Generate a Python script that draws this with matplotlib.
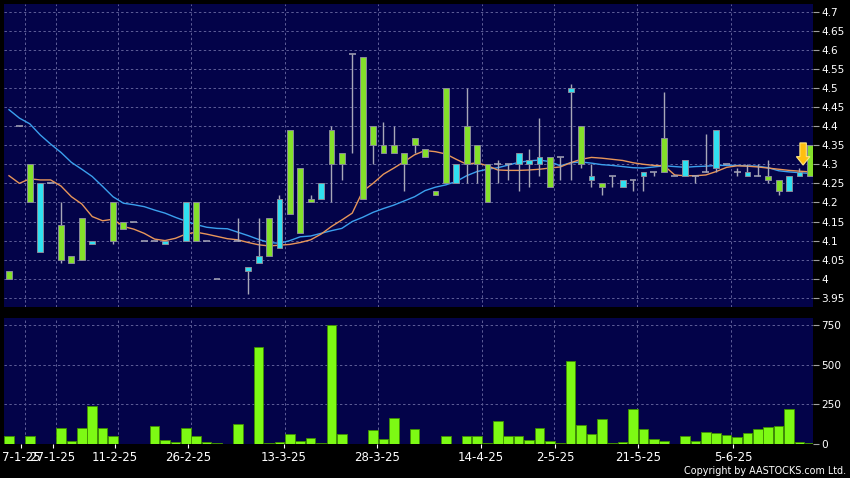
import numpy as np
import matplotlib.pyplot as plt
from matplotlib.patches import Rectangle, FancyArrow

nan = np.nan

# ---- daily OHLC (one slot per bar) ----
opens = [4.00, 4.40, 4.20, 4.25, 4.25, 4.05, 4.04, 4.05, 4.10, nan,
         4.10, 4.13, 4.15, 4.10, 4.10, 4.10, nan, 4.20, 4.10, 4.10,
         4.00, nan, 4.10, 4.03, 4.06, 4.06, 4.21, 4.17, 4.12, 4.20,
         4.25, 4.30, 4.30, 4.59, 4.21, 4.35, 4.33, 4.33, 4.30, 4.35,
         4.32, 4.22, 4.25, 4.30, 4.30, 4.30, 4.20, 4.30, 4.30, 4.33,
         4.31, 4.32, 4.24, 4.32, 4.50, 4.30, 4.27, 4.24, 4.27, 4.26,
         4.26, 4.28, 4.28, 4.28, 4.27, 4.31, 4.27, 4.28, 4.39, 4.30,
         4.28, 4.28, 4.27, 4.26, 4.23, 4.27, 4.28, 4.27]
highs = [4.02, 4.40, 4.30, 4.25, 4.25, 4.20, 4.06, 4.16, 4.10, nan,
         4.20, 4.15, 4.15, 4.10, 4.10, 4.10, nan, 4.20, 4.20, 4.10,
         4.00, nan, 4.16, 4.03, 4.16, 4.16, 4.22, 4.39, 4.29, 4.22,
         4.25, 4.40, 4.33, 4.59, 4.58, 4.40, 4.41, 4.40, 4.33, 4.37,
         4.34, 4.23, 4.50, 4.30, 4.50, 4.35, 4.30, 4.31, 4.30, 4.33,
         4.34, 4.42, 4.32, 4.32, 4.51, 4.40, 4.30, 4.25, 4.27, 4.26,
         4.26, 4.28, 4.28, 4.49, 4.27, 4.31, 4.27, 4.38, 4.39, 4.30,
         4.29, 4.30, 4.30, 4.31, 4.26, 4.27, 4.29, 4.35]
lows = [4.00, 4.40, 4.20, 4.07, 4.25, 4.04, 4.04, 4.05, 4.09, nan,
        4.09, 4.13, 4.15, 4.10, 4.10, 4.09, nan, 4.10, 4.10, 4.10,
        4.00, nan, 4.10, 3.96, 4.04, 4.06, 4.08, 4.17, 4.12, 4.20,
        4.21, 4.20, 4.26, 4.33, 4.21, 4.30, 4.33, 4.33, 4.23, 4.33,
        4.32, 4.22, 4.25, 4.25, 4.25, 4.25, 4.20, 4.25, 4.26, 4.23,
        4.24, 4.27, 4.24, 4.26, 4.26, 4.29, 4.24, 4.22, 4.24, 4.24,
        4.23, 4.23, 4.27, 4.28, 4.27, 4.27, 4.25, 4.28, 4.28, 4.30,
        4.27, 4.27, 4.27, 4.25, 4.22, 4.23, 4.27, 4.27]
closes = [4.02, 4.40, 4.30, 4.07, 4.25, 4.14, 4.06, 4.16, 4.09, nan,
          4.20, 4.15, 4.15, 4.10, 4.10, 4.09, nan, 4.10, 4.20, 4.10,
          4.00, nan, 4.10, 4.02, 4.04, 4.16, 4.08, 4.39, 4.29, 4.21,
          4.21, 4.39, 4.33, 4.59, 4.58, 4.40, 4.35, 4.35, 4.33, 4.37,
          4.34, 4.23, 4.50, 4.25, 4.40, 4.35, 4.30, 4.30, 4.30, 4.30,
          4.30, 4.30, 4.32, 4.32, 4.49, 4.40, 4.26, 4.25, 4.27, 4.24,
          4.26, 4.27, 4.28, 4.37, 4.27, 4.27, 4.27, 4.28, 4.29, 4.30,
          4.28, 4.27, 4.27, 4.27, 4.26, 4.23, 4.27, 4.35]

# ---- moving averages ----
ma_short = [4.270, 4.250, 4.262, 4.259, 4.259, 4.243, 4.215, 4.196, 4.163, 4.152,
            4.156, 4.137, 4.130, 4.119, 4.104, 4.100, 4.106, 4.117, 4.122, 4.117,
            4.111, 4.105, 4.102, 4.095, 4.089, 4.086, 4.088, 4.090, 4.095, 4.102,
            4.117, 4.137, 4.154, 4.172, 4.229, 4.250, 4.274, 4.290, 4.307, 4.325,
            4.336, 4.333, 4.327, 4.313, 4.300, 4.304, 4.296, 4.285, 4.284, 4.284,
            4.285, 4.287, 4.290, 4.293, 4.304, 4.313, 4.318, 4.316, 4.313, 4.310,
            4.304, 4.300, 4.297, 4.296, 4.272, 4.270, 4.270, 4.272, 4.281, 4.292,
            4.296, 4.295, 4.293, 4.290, 4.287, 4.284, 4.282, 4.280]
ma_long = [4.443, 4.421, 4.406, 4.377, 4.353, 4.331, 4.305, 4.287, 4.268, 4.242,
           4.215, 4.198, 4.194, 4.189, 4.180, 4.172, 4.161, 4.151, 4.142, 4.135,
           4.132, 4.131, 4.122, 4.113, 4.103, 4.095, 4.093, 4.100, 4.110, 4.112,
           4.119, 4.126, 4.132, 4.150, 4.161, 4.174, 4.184, 4.193, 4.204, 4.215,
           4.231, 4.240, 4.246, 4.255, 4.270, 4.281, 4.287, 4.291, 4.298, 4.305,
           4.309, 4.311, 4.307, 4.296, 4.304, 4.306, 4.303, 4.299, 4.297, 4.294,
           4.291, 4.290, 4.293, 4.296, 4.294, 4.292, 4.294, 4.295, 4.297, 4.297,
           4.297, 4.296, 4.295, 4.291, 4.283, 4.280, 4.278, 4.276]

volume = [49, 0, 49, 0, 0, 99, 21, 99, 237, 99,
          53, 3, 0, 3, 116, 25, 11, 99, 49, 11,
          6, 0, 125, 2, 609, 6, 10, 61, 17, 38,
          6, 748, 63, 3, 0, 91, 34, 165, 0, 93,
          0, 0, 49, 0, 49, 49, 8, 142, 49, 51,
          25, 101, 21, 6, 520, 120, 63, 156, 8, 13,
          220, 93, 34, 19, 0, 49, 21, 78, 70, 59,
          46, 68, 95, 106, 114, 218, 13, 6]

date_labels = ["7-1-25", "27-1-25", "11-2-25", "26-2-25", "13-3-25",
               "28-3-25", "14-4-25", "2-5-25", "21-5-25", "5-6-25"]
date_slots = [1.15, 4.2, 10.2, 17.2, 26.4, 35.4, 45.4, 52.5, 60.5, 69.6]
grid_slots = [1.5, 4.5, 10.5, 17.5, 26.5, 35.5, 45.5, 52.4, 60.4, 69.4]
price_ticks = [3.95, 4.0, 4.05, 4.1, 4.15, 4.2, 4.25, 4.3, 4.35, 4.4,
               4.45, 4.5, 4.55, 4.6, 4.65, 4.7]
vol_ticks = [0, 250, 500, 750]

# ---- style ----
BG = "#030349"
GRID = "#5e5e98"
GREEN = "#84e02a"
CYAN = "#30e0f0"
WICK = "#a8a8b8"
VOLGREEN = "#7dfa14"

plt.rcParams['font.family'] = ['DejaVu Sans']

fig = plt.figure(figsize=(8.5, 4.78), dpi=100, facecolor="black")
W, H = 850, 478
ax = fig.add_axes([4 / W, 1 - 307 / H, 809 / W, 303 / H])
axv = fig.add_axes([4 / W, 1 - 444 / H, 809 / W, 126 / H], sharex=ax)

n = len(opens)
x = np.arange(n)

for a in (ax, axv):
    a.set_facecolor(BG)
    for s in a.spines.values():
        s.set_visible(False)
    a.set_xticks(grid_slots, minor=True)
    a.grid(True, which="minor", axis="x", color=GRID, ls=(0, (2.5, 2.5)), lw=0.7)
    a.grid(True, which="major", axis="y", color=GRID, ls=(0, (2.5, 2.5)), lw=0.7)
    a.yaxis.tick_right()
    a.tick_params(axis="y", colors="#a0a0a0", labelcolor="white", length=4, width=0.8,
                  pad=2, labelsize=7.6)
    a.tick_params(axis="x", which="minor", length=0)

ax.set_xlim(-0.48, 77.3)
ax.set_ylim(3.926, 4.72)
ax.set_yticks(price_ticks)
ax.set_yticklabels([f"{v:g}" for v in price_ticks])
ax.tick_params(axis="x", which="major", length=0, labelbottom=False)
ax.set_xticks([])

# moving averages
ax.plot(x, ma_long, color="#3ba0ee", lw=1.0, zorder=2)
ax.plot(x, ma_short, color="#e8965a", lw=1.0, zorder=2)

# candles
bw = 0.56
for i in range(n):
    o, h, l, c = opens[i], highs[i], lows[i], closes[i]
    if np.isnan(o):
        continue
    if h > l:
        ax.vlines(i, l, h, color=WICK, lw=1.0, zorder=3)
    if abs(c - o) < 1e-9:
        ax.hlines(o, i - bw / 2 - 0.05, i + bw / 2 + 0.05, color=WICK, lw=1.1, zorder=4)
    else:
        col = GREEN if c > o else CYAN
        ax.add_patch(Rectangle((i - bw / 2, min(o, c)), bw, abs(c - o), facecolor=col,
                               edgecolor="#8a8a9a", lw=0.7, zorder=4))

# marker arrow on latest bar
ax.add_patch(FancyArrow(76.35, 4.356, 0, -0.058, width=0.62, head_width=1.3,
                        head_length=0.022, length_includes_head=True,
                        facecolor="#ffbf10", edgecolor="#ffe680", lw=0.8, zorder=6))

# volume
axv.bar(x, volume, width=0.92, color=VOLGREEN, edgecolor="#3f8f00", lw=0.6, zorder=3)
axv.set_ylim(0, 794)
axv.set_yticks(vol_ticks)
axv.set_yticklabels([str(v) for v in vol_ticks])
axv.set_xticks(date_slots)
axv.set_xticklabels(date_labels)
axv.tick_params(axis="x", which="major", colors="white", labelcolor="white", length=3,
                width=0.8, pad=2, labelsize=8.5)

fig.text(846 / W, 1 - 471 / H, "Copyright by AASTOCKS.com Ltd.", color="white",
         fontsize=6.9, ha="right", va="center")

fig.savefig("out.png", dpi=100, facecolor="black")
